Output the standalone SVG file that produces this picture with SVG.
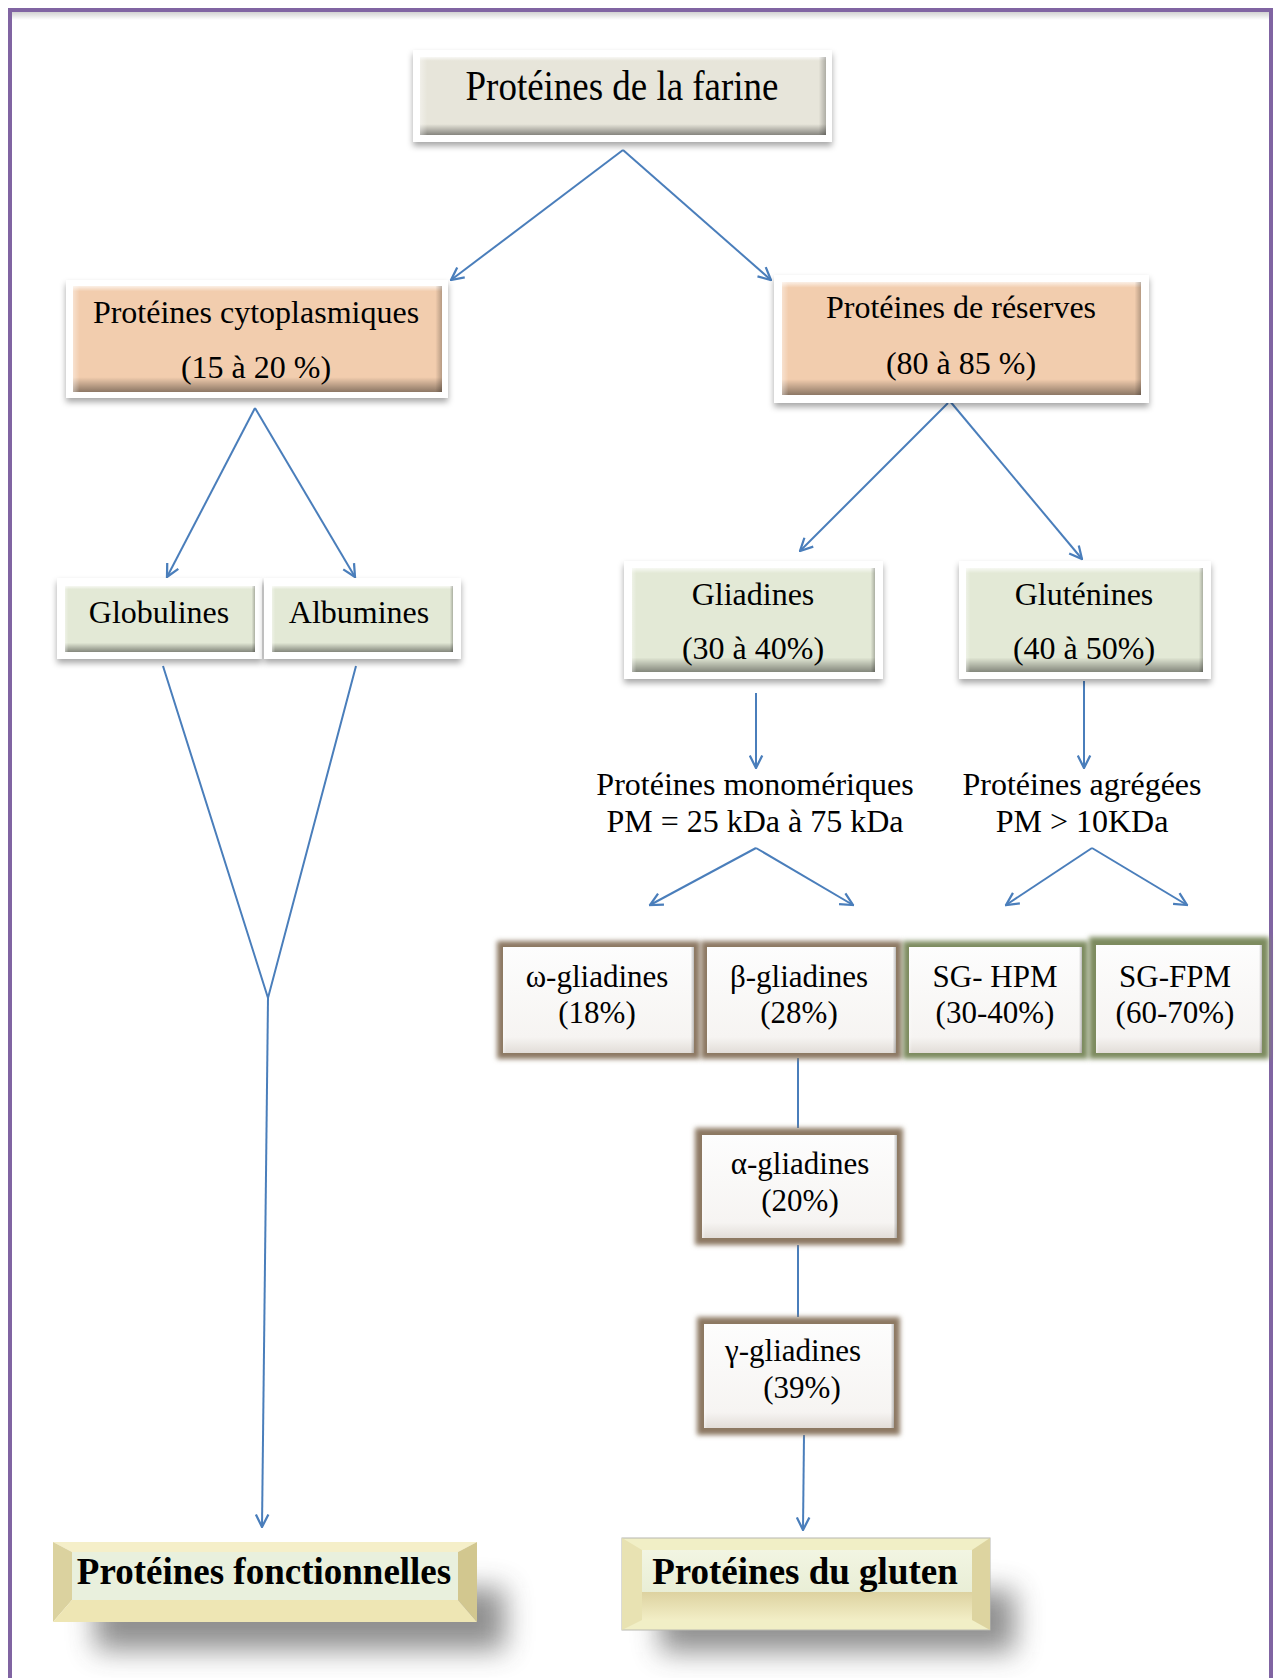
<svg xmlns="http://www.w3.org/2000/svg" width="1278" height="1678" viewBox="0 0 1278 1678">
<defs>
<style>
text{font-family:"Liberation Serif","Times New Roman",serif;fill:#000;text-anchor:middle}
.t42{font-size:42px}
.t32{font-size:32px}
.t31{font-size:31px}
.b37{font-size:37px;font-weight:bold}
.card{fill:#fff;filter:url(#sh)}
.farine{fill:#e7e5da}
.orange{fill:#f2cdae}
.green{fill:#e3e9d6}
.bv{fill:url(#bevV)}
.bh{fill:url(#bevH)}
.brown{fill:#8c7862;filter:url(#bl)}
.olive{fill:#7d8b5e;filter:url(#bl)}
.white{fill:url(#wht)}
.conn{fill:none;stroke:#4a7ebb;stroke-width:2}
.arr{marker-end:url(#ah)}
.bigsh{fill:#444;opacity:0.6;filter:url(#bigsh)}
</style>
<filter id="sh" x="-10%" y="-20%" width="120%" height="150%">
<feDropShadow dx="0" dy="4" stdDeviation="3" flood-color="#000" flood-opacity="0.35"/>
</filter>
<filter id="bl" x="-10%" y="-10%" width="120%" height="120%">
<feGaussianBlur stdDeviation="2.4"/>
</filter>
<filter id="bigsh" x="-30%" y="-80%" width="160%" height="260%">
<feGaussianBlur stdDeviation="14"/>
</filter>
<linearGradient id="bevV" x1="0" y1="0" x2="0" y2="1">
<stop offset="0" stop-color="#fff" stop-opacity="0.7"/>
<stop offset="0.05" stop-color="#fff" stop-opacity="0"/>
<stop offset="0.86" stop-color="#000" stop-opacity="0"/>
<stop offset="0.9" stop-color="#000" stop-opacity="0.12"/>
<stop offset="1" stop-color="#000" stop-opacity="0.42"/>
</linearGradient>
<linearGradient id="bevH" x1="0" y1="0" x2="1" y2="0">
<stop offset="0" stop-color="#fff" stop-opacity="0.4"/>
<stop offset="0.018" stop-color="#fff" stop-opacity="0"/>
<stop offset="0.982" stop-color="#000" stop-opacity="0"/>
<stop offset="1" stop-color="#000" stop-opacity="0.25"/>
</linearGradient>
<linearGradient id="wht" x1="0" y1="0" x2="0" y2="1">
<stop offset="0" stop-color="#fdfdfd"/>
<stop offset="0.85" stop-color="#f6f4f2"/>
<stop offset="1" stop-color="#e2ddd8"/>
</linearGradient>
<linearGradient id="gl2" x1="0" y1="0" x2="0" y2="1">
<stop offset="0" stop-color="#f2f5e2"/>
<stop offset="1" stop-color="#e9eed6"/>
</linearGradient>
<linearGradient id="gl2b" x1="0" y1="0" x2="0" y2="1">
<stop offset="0" stop-color="#ddd2a0"/>
<stop offset="1" stop-color="#f2eec6"/>
</linearGradient>
<linearGradient id="topsh" x1="0" y1="0" x2="0" y2="1">
<stop offset="0" stop-color="#000" stop-opacity="0.18"/>
<stop offset="1" stop-color="#000" stop-opacity="0"/>
</linearGradient>
<marker id="ah" viewBox="0 0 12 12" refX="11" refY="6" markerWidth="15" markerHeight="15" markerUnits="userSpaceOnUse" orient="auto">
<path d="M1,1 L11,6 L1,11" fill="none" stroke="#4a7ebb" stroke-width="1.8"/>
</marker>
</defs>
<rect width="1278" height="1678" fill="#fff"/>
<rect x="12" y="12" width="1257" height="8" fill="url(#topsh)"/>
<rect x="10" y="10" width="1261" height="1700" fill="none" stroke="#8064a2" stroke-width="4"/>

<g id="connectors">
<path class="conn arr" d="M623,150 L451,280"/>
<path class="conn arr" d="M623,150 L771,280"/>
<path class="conn arr" d="M255,408 L167,577"/>
<path class="conn arr" d="M255,408 L355,577"/>
<path class="conn" d="M163,666 L268,998 L356,666"/>
<path class="conn arr" d="M268,998 L262,1527"/>
<path class="conn arr" d="M948,403 L800,551"/>
<path class="conn arr" d="M949,400 L1082,559"/>
<path class="conn arr" d="M756,693 L756,768"/>
<path class="conn arr" d="M1084,681 L1084,768"/>
<path class="conn arr" d="M756,848 L650,905"/>
<path class="conn arr" d="M756,848 L853,905"/>
<path class="conn arr" d="M1092,848 L1006,905"/>
<path class="conn arr" d="M1092,848 L1187,905"/>
<path class="conn" d="M798,1058 L798,1128"/>
<path class="conn" d="M798,1245 L798,1317"/>
<path class="conn arr" d="M804,1435 L803,1530"/>
</g>

<g id="n-farine">
<rect class="card" x="413" y="50" width="419" height="92"/>
<rect class="farine" x="420" y="57" width="406" height="78"/>
<rect class="bv" x="420" y="57" width="406" height="78"/>
<rect class="bh" x="420" y="57" width="406" height="78"/>
<text class="t42" transform="translate(622,100) scale(0.88,1)">Protéines de la farine</text>
</g>

<g id="n-cyto">
<rect class="card" x="66" y="280" width="382" height="118"/>
<rect class="orange" x="73" y="286" width="369" height="106"/>
<rect class="bv" x="73" y="286" width="369" height="106"/>
<rect class="bh" x="73" y="286" width="369" height="106"/>
<text class="t32" x="256" y="323">Protéines cytoplasmiques</text>
<text class="t32" x="256" y="378">(15 à 20 %)</text>
</g>

<g id="n-reserves">
<rect class="card" x="774" y="275" width="375" height="128"/>
<rect class="orange" x="782" y="282" width="359" height="113"/>
<rect class="bv" x="782" y="282" width="359" height="113"/>
<rect class="bh" x="782" y="282" width="359" height="113"/>
<text class="t32" x="961" y="318">Protéines de réserves</text>
<text class="t32" x="961" y="374">(80 à 85 %)</text>
</g>

<g id="n-globulines">
<rect class="card" x="57" y="578" width="205" height="81"/>
<rect class="green" x="65" y="586" width="190" height="66"/>
<rect class="bv" x="65" y="586" width="190" height="66"/>
<rect class="bh" x="65" y="586" width="190" height="66"/>
<text class="t32" x="159" y="623">Globulines</text>
</g>

<g id="n-albumines">
<rect class="card" x="264" y="578" width="197" height="81"/>
<rect class="green" x="272" y="586" width="181" height="66"/>
<rect class="bv" x="272" y="586" width="181" height="66"/>
<rect class="bh" x="272" y="586" width="181" height="66"/>
<text class="t32" x="359" y="623">Albumines</text>
</g>

<g id="n-gliadines">
<rect class="card" x="624" y="561" width="259" height="118"/>
<rect class="green" x="632" y="568" width="243" height="104"/>
<rect class="bv" x="632" y="568" width="243" height="104"/>
<rect class="bh" x="632" y="568" width="243" height="104"/>
<text class="t32" x="753" y="605">Gliadines</text>
<text class="t32" x="753" y="659">(30 à 40%)</text>
</g>

<g id="n-glutenines">
<rect class="card" x="959" y="561" width="252" height="118"/>
<rect class="green" x="966" y="568" width="237" height="104"/>
<rect class="bv" x="966" y="568" width="237" height="104"/>
<rect class="bh" x="966" y="568" width="237" height="104"/>
<text class="t32" x="1084" y="605">Gluténines</text>
<text class="t32" x="1084" y="659">(40 à 50%)</text>
</g>

<g id="n-monomeriques">
<text class="t32" x="755" y="795">Protéines monomériques</text>
<text class="t32" x="755" y="832">PM = 25 kDa à 75 kDa</text>
</g>

<g id="n-agregees">
<text class="t32" x="1082" y="795">Protéines agrégées</text>
<text class="t32" x="1082" y="832">PM &gt; 10KDa</text>
</g>

<g id="n-omega">
<rect class="brown" x="497" y="941" width="203" height="118"/>
<rect class="white" x="503" y="947" width="191" height="106"/>
<rect class="bh" x="503" y="947" width="191" height="106"/>
<text class="t31" x="597" y="987">ω-gliadines</text>
<text class="t31" x="597" y="1023">(18%)</text>
</g>

<g id="n-beta">
<rect class="brown" x="701" y="941" width="201" height="118"/>
<rect class="white" x="707" y="947" width="189" height="106"/>
<rect class="bh" x="707" y="947" width="189" height="106"/>
<text class="t31" x="799" y="987">β-gliadines</text>
<text class="t31" x="799" y="1023">(28%)</text>
</g>

<g id="n-sghpm">
<rect class="olive" x="903" y="941" width="185" height="118"/>
<rect class="white" x="909" y="947" width="173" height="106"/>
<rect class="bh" x="909" y="947" width="173" height="106"/>
<text class="t31" x="995" y="987">SG- HPM</text>
<text class="t31" x="995" y="1023">(30-40%)</text>
</g>

<g id="n-sgfpm">
<rect class="olive" x="1089" y="937" width="180" height="122"/>
<rect class="white" x="1096" y="945" width="166" height="108"/>
<rect class="bh" x="1096" y="945" width="166" height="108"/>
<text class="t31" x="1175" y="987">SG-FPM</text>
<text class="t31" x="1175" y="1023">(60-70%)</text>
</g>

<g id="n-alpha">
<rect class="brown" x="695" y="1128" width="208" height="117"/>
<rect class="white" x="702" y="1135" width="195" height="103"/>
<rect class="bh" x="702" y="1135" width="195" height="103"/>
<text class="t31" x="800" y="1174">α-gliadines</text>
<text class="t31" x="800" y="1211">(20%)</text>
</g>

<g id="n-gamma">
<rect class="brown" x="697" y="1317" width="203" height="118"/>
<rect class="white" x="704" y="1324" width="190" height="104"/>
<rect class="bh" x="704" y="1324" width="190" height="104"/>
<text class="t31" x="793" y="1361">γ-gliadines</text>
<text class="t31" x="802" y="1398">(39%)</text>
</g>

<g id="n-fonctionnelles">
<rect class="bigsh" x="95" y="1588" width="410" height="62"/>
<polygon points="53,1542 477,1542 458,1552 72,1552" fill="#f5efc9"/>
<polygon points="53,1542 72,1552 72,1600 53,1622" fill="#dbd29f"/>
<polygon points="477,1542 477,1622 458,1600 458,1552" fill="#d2c78f"/>
<polygon points="53,1622 72,1600 458,1600 477,1622" fill="#eee6b4"/>
<rect x="72" y="1552" width="386" height="48" fill="#e9f0dd"/>
<text class="b37" x="264" y="1584">Protéines fonctionnelles</text>
</g>

<g id="n-gluten">
<rect class="bigsh" x="660" y="1590" width="355" height="62"/>
<rect x="622" y="1538" width="368" height="92" fill="#f1efc6" stroke="#b8b8b0" stroke-width="1"/>
<polygon points="622,1538 642,1550 642,1620 622,1630" fill="#e8e2b2"/>
<polygon points="990,1538 990,1630 972,1620 972,1550" fill="#ddd4a0"/>
<rect x="642" y="1550" width="330" height="42" fill="url(#gl2)"/>
<rect x="642" y="1592" width="330" height="28" fill="url(#gl2b)"/>
<text class="b37" x="805" y="1584">Protéines du gluten</text>
</g>
</svg>
